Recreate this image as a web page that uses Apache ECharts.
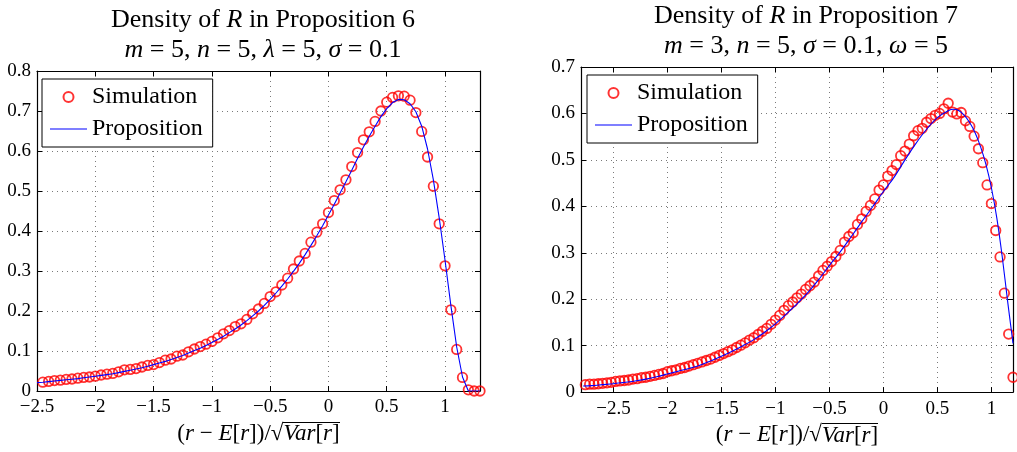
<!DOCTYPE html>
<html><head><meta charset="utf-8">
<script src="https://cdn.jsdelivr.net/npm/echarts@6/dist/echarts.min.js"></script>
<style>html,body{margin:0;padding:0;background:#fff}#c{width:1017px;height:452px}</style>
</head><body><div id="c"></div>
<script>
// ---------- Data: left panel (Proposition 6) ----------
const leftSimX = [-2.45,-2.40,-2.35,-2.30,-2.25,-2.20,-2.15,-2.10,-2.05,-2.00,-1.95,-1.90,-1.85,-1.80,-1.75,-1.70,-1.65,-1.60,-1.55,-1.50,-1.45,-1.40,-1.35,-1.30,-1.25,-1.20,-1.15,-1.10,-1.05,-1.00,-0.95,-0.90,-0.85,-0.80,-0.75,-0.70,-0.65,-0.60,-0.55,-0.50,-0.45,-0.40,-0.35,-0.30,-0.25,-0.20,-0.15,-0.10,-0.05,0.00,0.05,0.10,0.15,0.20,0.25,0.30,0.35,0.40,0.45,0.50,0.55,0.60,0.65,0.70,0.75,0.80,0.85,0.90,0.95,1.00,1.05,1.10,1.15,1.20,1.25,1.30];
const leftSimY = [0.022,0.024,0.026,0.027,0.029,0.030,0.032,0.034,0.035,0.037,0.040,0.042,0.044,0.048,0.053,0.054,0.056,0.060,0.064,0.066,0.071,0.077,0.080,0.087,0.090,0.098,0.105,0.111,0.117,0.124,0.133,0.143,0.151,0.161,0.168,0.179,0.193,0.205,0.219,0.236,0.248,0.265,0.282,0.305,0.325,0.344,0.372,0.397,0.418,0.446,0.476,0.503,0.528,0.561,0.596,0.628,0.648,0.674,0.700,0.722,0.734,0.738,0.737,0.727,0.696,0.649,0.585,0.512,0.418,0.313,0.203,0.104,0.034,0.003,0.000,0.000];
const leftPropX = [-2.50,-2.45,-2.40,-2.35,-2.30,-2.25,-2.20,-2.15,-2.10,-2.05,-2.00,-1.95,-1.90,-1.85,-1.80,-1.75,-1.70,-1.65,-1.60,-1.55,-1.50,-1.45,-1.40,-1.35,-1.30,-1.25,-1.20,-1.15,-1.10,-1.05,-1.00,-0.95,-0.90,-0.85,-0.80,-0.75,-0.70,-0.65,-0.60,-0.55,-0.50,-0.45,-0.40,-0.35,-0.30,-0.25,-0.20,-0.15,-0.10,-0.05,0.00,0.05,0.10,0.15,0.20,0.25,0.30,0.35,0.40,0.45,0.50,0.55,0.60,0.65,0.70,0.75,0.80,0.85,0.90,0.95,1.00,1.05,1.10,1.15,1.20,1.25,1.30];
const leftPropY = [0.021,0.022,0.0235,0.025,0.0265,0.028,0.0295,0.031,0.033,0.035,0.037,0.039,0.041,0.043,0.046,0.049,0.052,0.055,0.058,0.062,0.066,0.070,0.074,0.079,0.084,0.089,0.095,0.101,0.107,0.114,0.121,0.129,0.137,0.146,0.155,0.165,0.176,0.188,0.200,0.214,0.229,0.245,0.262,0.280,0.299,0.319,0.341,0.364,0.388,0.413,0.440,0.467,0.495,0.523,0.552,0.582,0.610,0.637,0.662,0.686,0.706,0.721,0.729,0.728,0.718,0.698,0.662,0.605,0.528,0.433,0.327,0.214,0.110,0.035,0.000,0.000,0.000];

// ---------- Data: right panel (Proposition 7) ----------
const rightSimX = [-2.76,-2.72,-2.68,-2.64,-2.60,-2.56,-2.52,-2.48,-2.44,-2.40,-2.36,-2.32,-2.28,-2.24,-2.20,-2.16,-2.12,-2.08,-2.04,-2.00,-1.96,-1.92,-1.88,-1.84,-1.80,-1.76,-1.72,-1.68,-1.64,-1.60,-1.56,-1.52,-1.48,-1.44,-1.40,-1.36,-1.32,-1.28,-1.24,-1.20,-1.16,-1.12,-1.08,-1.04,-1.00,-0.96,-0.92,-0.88,-0.84,-0.80,-0.76,-0.72,-0.68,-0.64,-0.60,-0.56,-0.52,-0.48,-0.44,-0.40,-0.36,-0.32,-0.28,-0.24,-0.20,-0.16,-0.12,-0.08,-0.04,0.00,0.04,0.08,0.12,0.16,0.20,0.24,0.28,0.32,0.36,0.40,0.44,0.48,0.52,0.56,0.60,0.64,0.68,0.72,0.76,0.80,0.84,0.88,0.92,0.96,1.00,1.04,1.08,1.12,1.16,1.20];
const rightSimY = [0.016,0.017,0.017,0.018,0.019,0.020,0.021,0.023,0.024,0.025,0.026,0.028,0.029,0.031,0.032,0.034,0.036,0.038,0.040,0.044,0.046,0.048,0.051,0.053,0.056,0.059,0.062,0.065,0.068,0.071,0.075,0.079,0.083,0.087,0.091,0.096,0.101,0.106,0.112,0.117,0.124,0.131,0.137,0.146,0.155,0.165,0.176,0.186,0.194,0.203,0.211,0.221,0.229,0.237,0.250,0.262,0.271,0.281,0.292,0.305,0.323,0.335,0.343,0.361,0.373,0.389,0.402,0.416,0.435,0.446,0.465,0.477,0.490,0.509,0.519,0.534,0.552,0.563,0.568,0.581,0.589,0.596,0.600,0.610,0.622,0.603,0.599,0.602,0.584,0.572,0.551,0.524,0.494,0.446,0.406,0.348,0.291,0.213,0.125,0.032];
const rightPropX = [-2.78,-2.7,-2.6,-2.5,-2.4,-2.3,-2.2,-2.1,-2.0,-1.9,-1.8,-1.7,-1.6,-1.5,-1.4,-1.3,-1.2,-1.1,-1.0,-0.9,-0.8,-0.7,-0.6,-0.5,-0.4,-0.3,-0.2,-0.1,0.0,0.1,0.2,0.3,0.4,0.5,0.6,0.65,0.7,0.75,0.8,0.85,0.9,0.95,1.0,1.05,1.1,1.15,1.2];
const rightPropY = [0.013,0.014,0.016,0.018,0.021,0.024,0.028,0.033,0.039,0.045,0.051,0.058,0.067,0.077,0.088,0.100,0.113,0.129,0.147,0.168,0.190,0.214,0.242,0.273,0.302,0.334,0.367,0.399,0.432,0.463,0.500,0.535,0.566,0.591,0.606,0.609,0.606,0.596,0.580,0.558,0.528,0.490,0.440,0.375,0.292,0.196,0.105];

// ---------- Axis / text ----------
const leftXTicks = [-2.5,-2,-1.5,-1,-0.5,0,0.5,1];
const rightXTicks = [-2.5,-2,-1.5,-1,-0.5,0,0.5,1];
const seriesNames = ['Simulation','Proposition'];
const titles = [
  '{a|Density of }{i|R}{a| in Proposition 6}\n{i|m}{a| = 5, }{i|n}{a| = 5, }{i|λ}{a| = 5, }{i|σ}{a| = 0.1}',
  '{a|Density of }{i|R}{a| in Proposition 7}\n{i|m}{a| = 3, }{i|n}{a| = 5, }{i|σ}{a| = 0.1, }{i|ω}{a| = 5}'
];
const xName = '{a|(}{i|r}{a| − }{i|E}{a|[}{i|r}{a|])/√}{oi|Var}{o|[}{oi|r}{o|]}';

const FONT = "'Liberation Serif', 'Times New Roman', serif";
const pair = (xs, ys) => xs.map((x, i) => [x, ys[i]]);
const fmt = v => (v < 0 ? '−' + String(-v) : String(v));

// small image used as the radical's overline (a 1px rule at the top of the text box)
const bar = document.createElement('canvas');
bar.width = 4; bar.height = 40;
(function () { const g = bar.getContext('2d'); g.fillStyle = '#000'; g.fillRect(0, 0, 4, 2); })();

const richText = size => ({
  a: {fontFamily: FONT, fontSize: size, fontWeight: 'normal', color: '#000'},
  i: {fontFamily: FONT, fontSize: size, fontWeight: 'normal', fontStyle: 'italic', color: '#000'},
  o: {fontFamily: FONT, fontSize: size, fontWeight: 'normal', color: '#000', backgroundColor: {image: bar}, padding: [1, 0, 0, 0], height: size},
  oi: {fontFamily: FONT, fontSize: size, fontWeight: 'normal', fontStyle: 'italic', color: '#000', backgroundColor: {image: bar}, padding: [1, 0, 0, 0], height: size}
});

function xAxes(grid, min, max, ticks, opts) {
  const base = {
    type: 'value', gridIndex: grid, min: min, max: max,
    axisLine: {show: true, onZero: false, lineStyle: {color: '#000', width: 1.2}},
    axisTick: {show: true, inside: true, length: 5, lineStyle: {color: '#000', width: 1}},
  };
  if (opts.interval) base.interval = opts.interval;
  if (opts.custom) base.axisTick.customValues = ticks;
  const bottom = Object.assign({}, base, {
    position: 'bottom',
    axisLabel: Object.assign({show: true, margin: 7, fontFamily: FONT, fontSize: 19, color: '#000', formatter: fmt, showMaxLabel: !opts.interval},
      opts.custom ? {customValues: ticks} : {}),
    splitLine: {show: true, lineStyle: {color: '#7a7a7a', width: 1, type: [1, 4]}},
    name: xName, nameLocation: 'middle', nameGap: 29,
    nameTextStyle: {rich: richText(23)}
  });
  const top = Object.assign({}, base, {
    position: 'top', axisLabel: {show: false}, splitLine: {show: false},
    axisTick: Object.assign({}, base.axisTick)
  });
  return [bottom, top];
}
function yAxes(grid, max) {
  const base = {
    type: 'value', gridIndex: grid, min: 0, max: max, interval: 0.1,
    axisLine: {show: true, onZero: false, lineStyle: {color: '#000', width: 1.2}},
    axisTick: {show: true, inside: true, length: 5, lineStyle: {color: '#000', width: 1}}
  };
  return [
    Object.assign({}, base, {position: 'left',
      axisLabel: {show: true, margin: 6, fontFamily: FONT, fontSize: 19, color: '#000'},
      splitLine: {show: true, lineStyle: {color: '#7a7a7a', width: 1, type: [1, 4]}}}),
    Object.assign({}, base, {position: 'right', axisLabel: {show: false}, splitLine: {show: false}})
  ];
}

const lx = xAxes(0, -2.5, 1.3, leftXTicks, {interval: 0.5});
const rx = xAxes(1, -2.8, 1.2, rightXTicks, {custom: true});
const ly = yAxes(0, 0.8);
const ry = yAxes(1, 0.7);

function legend(left, top) {
  return {
    orient: 'vertical', left: left, top: top,
    data: [
      {name: seriesNames[0]},
      {name: seriesNames[1], icon: 'path://M0,0 L37,0 L37,1.2 L0,1.2 Z', itemStyle: {color: '#0000ff', borderWidth: 0}}
    ],
    backgroundColor: '#fff', borderColor: '#000', borderWidth: 1,
    padding: [6, 10, 6, 8], itemGap: 8, itemWidth: 37, itemHeight: 10,
    textStyle: {fontFamily: FONT, fontSize: 24, color: '#000', lineHeight: 24},
    selectedMode: false
  };
}

const simStyle = {color: 'rgba(0,0,0,0)', borderColor: '#ff0000', borderWidth: 1.8};
function simSeries(name, xi, yi, data) {
  return {name: name, type: 'scatter', xAxisIndex: xi, yAxisIndex: yi, data: data,
    symbol: 'circle', symbolSize: 9.5, itemStyle: simStyle, z: 3};
}
function propSeries(name, xi, yi, data, smooth) {
  return {name: name, type: 'line', xAxisIndex: xi, yAxisIndex: yi, data: data,
    symbol: 'none', showSymbol: false, smooth: smooth,
    lineStyle: {color: '#0000ff', width: 1.1}, itemStyle: {color: '#0000ff'}, z: 4};
}

const chart = echarts.init(document.getElementById('c'), null, {renderer: 'canvas'});
chart.setOption({
  backgroundColor: '#fff',
  animation: false,
  title: [
    {text: titles[0], left: 258, top: 0, textAlign: 'center', textStyle: {fontWeight: 'normal', rich: richText(26), lineHeight: 30}},
    {text: titles[1], left: 801, top: -4, textAlign: 'center', textStyle: {fontWeight: 'normal', rich: richText(26), lineHeight: 30}}
  ],
  legend: [legend(42, 79), legend(587, 75)],
  grid: [
    {left: 37, top: 71, width: 443, height: 320, show: false},
    {left: 581, top: 67, width: 432, height: 329, show: false}
  ],
  xAxis: [lx[0], lx[1], rx[0], rx[1]],
  yAxis: [ly[0], ly[1], ry[0], ry[1]],
  series: [
    simSeries(seriesNames[0], 0, 0, pair(leftSimX, leftSimY)),
    propSeries(seriesNames[1], 0, 0, pair(leftPropX, leftPropY), false),
    simSeries(seriesNames[0], 2, 2, pair(rightSimX, rightSimY)),
    propSeries(seriesNames[1], 2, 2, pair(rightPropX, rightPropY), 0.3)
  ]
});
</script></body></html>
